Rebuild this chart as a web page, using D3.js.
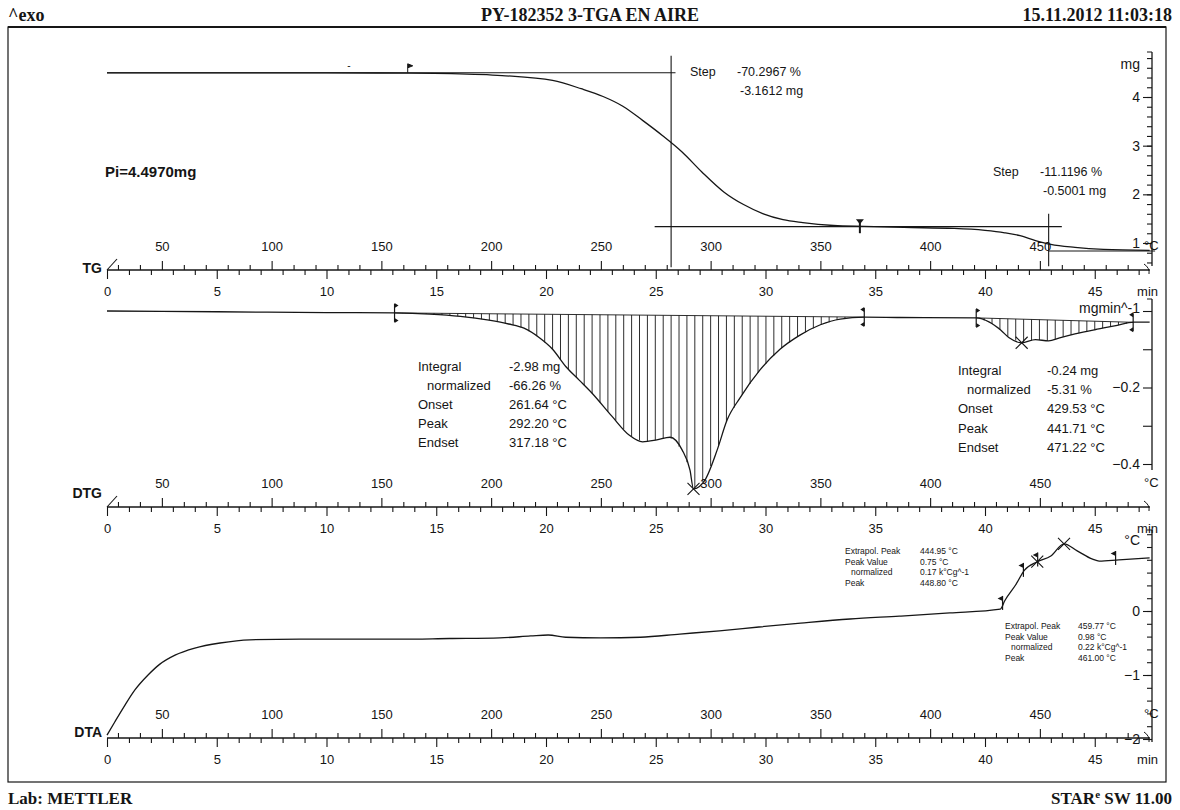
<!DOCTYPE html>
<html><head><meta charset="utf-8">
<script src="https://cdn.jsdelivr.net/npm/d3@7"></script>
<style>body{margin:0;background:#fff}svg{display:block}text{font-family:"Liberation Sans",Arial,sans-serif;fill:#151515}</style>
</head><body>
<svg id="c" width="1180" height="810"></svg>
<script>
// ---------- data ----------
const tgTime = [0,5,10,13.8,15.7,18.0,20.3,21.6,22.6,23.5,24.4,25.3,26.2,27.1,28.1,29.0,29.9,30.8,31.7,33.1,34.5,36.3,38.6,40.0,40.9,41.6,42.3,43.0,44.1,45.4,47.5];
const tgMass = [4.497,4.497,4.495,4.49,4.48,4.44,4.34,4.17,4.01,3.81,3.52,3.21,2.87,2.46,2.05,1.79,1.60,1.48,1.42,1.36,1.34,1.32,1.30,1.26,1.21,1.15,1.05,0.97,0.91,0.87,0.85];

const dtgTime = [0,5,10,13.1,14.7,16.1,17.4,18.3,19.0,19.7,20.3,20.9,21.5,22.1,23.0,23.8,24.4,25.05,25.65,26.2,26.56,26.72,27.24,27.8,28.25,28.84,29.75,30.66,31.57,32.5,33.4,34.5,36.1,39.6,40.2,40.7,41.1,41.67,42.3,42.9,43.4,44.1,45.0,45.9,46.8,47.5];
const dtgRate = [0,-0.002,-0.004,-0.005,-0.008,-0.014,-0.024,-0.034,-0.045,-0.07,-0.10,-0.145,-0.18,-0.215,-0.275,-0.325,-0.342,-0.337,-0.33,-0.363,-0.416,-0.465,-0.442,-0.363,-0.285,-0.227,-0.154,-0.10,-0.063,-0.036,-0.021,-0.016,-0.017,-0.018,-0.029,-0.049,-0.07,-0.083,-0.075,-0.078,-0.07,-0.06,-0.049,-0.039,-0.029,-0.029];

const dtaTime = [0,0.36,0.82,1.28,1.87,2.41,3.1,4.0,5.15,6.5,8.8,11.1,13.3,15.6,17.9,19.3,20.1,20.9,22.5,24.3,26.1,27.9,29.7,31.6,33.85,36.1,38.4,40.7,40.9,41.4,41.8,42.38,43.0,43.6,44.2,44.9,45.2,46.1,47.5];
const dtaSignal = [-1.94,-1.73,-1.47,-1.23,-1.0,-0.83,-0.69,-0.58,-0.50,-0.45,-0.44,-0.44,-0.44,-0.43,-0.42,-0.39,-0.375,-0.41,-0.42,-0.41,-0.36,-0.31,-0.25,-0.19,-0.125,-0.08,-0.03,0.03,0.16,0.41,0.64,0.77,0.86,1.05,0.94,0.81,0.78,0.80,0.83];

const timeTicksMajor = [0,5,10,15,20,25,30,35,40,45];
const tempTicksMajor = [50,100,150,200,250,300,350,400,450];
const tgTicks = [1,2,3,4];
const dtgTicks = [0,-0.1,-0.2,-0.3,-0.4];
const dtgTickLabels = [-0.2,-0.4];
const dtaTicks = [0,-1,-2];

const tgSteps = [
  {label:"Step", pct:"-70.2967 %", mg:"-3.1612 mg", tFrom:0, tTo:25.9, tV:25.7, hi:4.497, lo:1.336, tLoFrom:24.95, tLoTo:43.5},
  {label:"Step", pct:"-11.1196 %", mg:"-0.5001 mg", tV:42.9, lo:0.836, tLoTo:47.75}
];
const dtgLimits = [[13.1,34.5],[39.6,46.75]];
const dtgPeaks = [26.72,41.67];
const dtgResults = [
  [["Integral","-2.98 mg"],[" normalized","-66.26 %"],["Onset","261.64 °C"],["Peak","292.20 °C"],["Endset","317.18 °C"]],
  [["Integral","-0.24 mg"],[" normalized","-5.31 %"],["Onset","429.53 °C"],["Peak","441.71 °C"],["Endset","471.22 °C"]]
];
const dtaPeaks = [42.38,43.6];
const dtaFlags = [40.8,41.75,42.4,45.95];
const dtaResults = [
  [["Extrapol. Peak","444.95 °C"],["Peak Value","0.75 °C"],["  normalized","0.17 k°Cg^-1"],["Peak","448.80 °C"]],
  [["Extrapol. Peak","459.77 °C"],["Peak Value","0.98 °C"],["  normalized","0.22 k°Cg^-1"],["Peak","461.00 °C"]]
];

// ---------- scales ----------
const svg = d3.select("#c");
const X0 = 107, PXMIN = 21.95, TEND = 47.5;
const xT = d3.scaleLinear().domain([0,TEND]).range([X0, X0+TEND*PXMIN]);
const xC = d3.scaleLinear().domain([25,25+10*TEND]).range([X0, X0+TEND*PXMIN]);
const AXR = 1152;
const yTG = d3.scaleLinear().domain([1,4]).range([243,97]);
const yDTG = d3.scaleLinear().domain([0,-0.4]).range([311,464]);
const yDTA = d3.scaleLinear().domain([0,-1]).range([611,675]);
const ink = "#161616";

function interp(ts, vs, t){
  let i = d3.bisectLeft(ts,t); i = Math.max(1, Math.min(ts.length-1, i));
  const k = (t-ts[i-1])/(ts[i]-ts[i-1]);
  return vs[i-1] + k*(vs[i]-vs[i-1]);
}

// ---------- frame & header ----------
svg.append("rect").attr("x",8).attr("y",27).attr("width",1158).attr("height",755)
  .attr("fill","none").attr("stroke",ink).attr("stroke-width",1.2);
svg.append("line").attr("x1",8).attr("x2",1166).attr("y1",27).attr("y2",27).attr("stroke",ink).attr("stroke-width",2.2);
const serif = `"Liberation Serif","Times New Roman",serif`;
const hdr = (x,anchor,txt)=>svg.append("text").attr("x",x).attr("y",21).attr("text-anchor",anchor).style("font-family",serif).style("font-size","18px").style("font-weight","bold").text(txt);
hdr(8,"start","^exo"); hdr(590,"middle","PY-182352 3-TGA EN AIRE"); hdr(1172,"end","15.11.2012 11:03:18");
svg.append("text").attr("x",8).attr("y",804).style("font-family",serif).style("font-size","17px").style("font-weight","bold").text("Lab: METTLER");
const st = svg.append("text").attr("x",1172).attr("y",804).attr("text-anchor","end").style("font-family",serif).style("font-size","17px").style("font-weight","bold");
st.append("tspan").text("STAR");
st.append("tspan").attr("dy",-6).style("font-size","11px").text("e");
st.append("tspan").attr("dy",6).text(" SW 11.00");

// ---------- rulers ----------
function ruler(y, name, labelDy){
  const g = svg.append("g").attr("transform",`translate(0,${y})`);
  const tempMinor = d3.range(30, 500, 10).filter(v=>v%50!==0);
  const timeMinor = d3.range(1, 48, 1).filter(v=>v%5!==0);
  const style = sel => { sel.select(".domain").remove(); sel.selectAll("line").attr("stroke",ink).attr("stroke-width",1.1); sel.selectAll("text").style("font-size","13px").style("font-family",'"Liberation Sans",Arial,sans-serif').attr("fill",ink); };
  g.append("g").call(d3.axisTop(xC).tickValues(tempMinor).tickSize(5).tickFormat("")).call(style);
  g.append("g").call(d3.axisTop(xC).tickValues(tempTicksMajor).tickSize(9).tickPadding(10).tickFormat(d3.format("d"))).call(style);
  g.append("g").call(d3.axisBottom(xT).tickValues(timeMinor).tickSize(5).tickFormat("")).call(style);
  g.append("g").call(d3.axisBottom(xT).tickValues(timeTicksMajor).tickSize(9).tickPadding(8).tickFormat(d3.format("d"))).call(style);
  g.append("line").attr("x1",X0).attr("x2",AXR-2).attr("y1",0).attr("y2",0).attr("stroke",ink).attr("stroke-width",1.3);
  g.append("path").attr("d",`M${AXR-8},-6 Q${AXR-2},-2 ${AXR-3},4`).attr("fill","none").attr("stroke",ink);
  g.append("text").attr("x",X0-5).attr("y",labelDy).attr("text-anchor","end").style("font-size","14px").style("font-weight","bold").text(name);
  g.append("text").attr("x",AXR-8).attr("y",-20).style("font-size","13px").text("°C");
  g.append("text").attr("x",AXR+6).attr("y",26).attr("text-anchor","end").style("font-size","13px").text("min");
}
ruler(270,"TG",3);
ruler(507,"DTG",-9);
ruler(738,"DTA",-1);
// start slashes
[270,507].forEach(y=>svg.append("line").attr("x1",X0).attr("y1",y).attr("x2",X0+10).attr("y2",y-11).attr("stroke",ink).attr("stroke-width",1.1));

// ---------- right axes ----------
function rightAxis(scale, major, minor, labels, fmt, yTop, yBot, unit, unitY){
  const g = svg.append("g").attr("transform",`translate(${AXR},0)`);
  const style = sel => { sel.select(".domain").remove(); sel.selectAll("line").attr("stroke",ink).attr("stroke-width",1.1); sel.selectAll("text").style("font-size","14px").style("font-family",'"Liberation Sans",Arial,sans-serif').attr("fill",ink); };
  if (minor) g.append("g").call(d3.axisLeft(scale).tickValues(minor).tickSize(5).tickFormat("")).call(style);
  g.append("g").call(d3.axisLeft(scale).tickValues(major).tickSize(9).tickPadding(3).tickFormat(d=> labels.includes(d)? fmt(d):"")).call(style);
  g.append("line").attr("x1",0).attr("x2",0).attr("y1",yTop).attr("y2",yBot).attr("stroke",ink).attr("stroke-width",1.3);
  g.append("line").attr("x1",-5).attr("x2",0).attr("y1",yTop).attr("y2",yTop).attr("stroke",ink);
  g.append("text").attr("x",-12).attr("y",unitY).attr("text-anchor","end").style("font-size","14px").text(unit);
}
rightAxis(yTG, tgTicks, d3.range(0.6,4.85,0.2).map(v=>+v.toFixed(1)), tgTicks, d3.format("d"), 52, 266, "mg", 69);
rightAxis(yDTG, dtgTicks, null, dtgTickLabels, d3.format(".1f"), 299, 470, "mgmin^-1", 313);
rightAxis(yDTA, dtaTicks, d3.range(-2,1.3,0.2).map(v=>+v.toFixed(1)), dtaTicks, d3.format("d"), 530, 742, "°C", 545);

// ---------- TG ----------
const lineTG = d3.line().x((d,i)=>xT(tgTime[i])).y(d=>yTG(d)).curve(d3.curveMonotoneX);
svg.append("path").attr("d",lineTG(tgMass)).attr("fill","none").attr("stroke",ink).attr("stroke-width",1.3);
const s1 = tgSteps[0], s2 = tgSteps[1];
const hl = (t1,t2,v)=>svg.append("line").attr("x1",xT(t1)).attr("x2",xT(t2)).attr("y1",yTG(v)).attr("y2",yTG(v)).attr("stroke",ink).attr("stroke-width",1.1);
const vl = (t,v1,v2)=>svg.append("line").attr("x1",xT(t)).attr("x2",xT(t)).attr("y1",yTG(v1)).attr("y2",yTG(v2)).attr("stroke",ink).attr("stroke-width",1.1);
hl(s1.tFrom,s1.tTo,s1.hi); vl(s1.tV,4.85,0.5); hl(s1.tLoFrom,s1.tLoTo,s1.lo);
vl(s2.tV,1.6,0.52); hl(s2.tV,s2.tLoTo,s2.lo);
function stepText(x,y,s){
  svg.append("text").attr("x",x).attr("y",y).style("font-size","12.5px").text(s.label);
  svg.append("text").attr("x",x+47).attr("y",y).style("font-size","12.5px").text(s.pct);
  svg.append("text").attr("x",x+50).attr("y",y+19).style("font-size","12.5px").text(s.mg);
}
stepText(690,76,s1); stepText(993,176,s2);
svg.append("text").attr("x",105).attr("y",177).style("font-size","15px").style("font-weight","bold").text("Pi=4.4970mg");
// TG markers
{ const fx = xT(13.7), fy = yTG(4.497);
  svg.append("path").attr("d",`M${fx},${fy} V${fy-9} l5,2 l-5,2`).attr("fill",ink).attr("stroke",ink);
  const px = xT(34.3), py = yTG(1.345);
  svg.append("line").attr("x1",px).attr("x2",px).attr("y1",py-6).attr("y2",py+7).attr("stroke",ink).attr("stroke-width",2);
  svg.append("path").attr("d",`M${px-4},${py-7} h8 l-4,5 z`).attr("fill",ink);
  svg.append("text").attr("x",xT(10.95)).attr("y",yTG(4.5)-4).style("font-size","10px").text("-");
}

// ---------- DTG ----------
const lineDTG = d3.line().x((d,i)=>xT(dtgTime[i])).y(d=>yDTG(d)).curve(d3.curveMonotoneX);
const hatch = svg.append("g");
dtgLimits.forEach(([a,b])=>{
  const va = interp(dtgTime,dtgRate,a), vb = interp(dtgTime,dtgRate,b);
  const step = 0.36;
  for(let t=a+step; t<b-0.05; t+=step){
    const base = va + (vb-va)*(t-a)/(b-a);
    hatch.append("line").attr("x1",xT(t)).attr("x2",xT(t)).attr("y1",yDTG(base)).attr("y2",yDTG(interp(dtgTime,dtgRate,t)))
      .attr("stroke",ink).attr("stroke-width",0.9);
  }
  hatch.append("line").attr("x1",xT(a)).attr("x2",xT(b)).attr("y1",yDTG(va)).attr("y2",yDTG(vb)).attr("stroke",ink).attr("stroke-width",0.9);
  [[a,1],[b,-1]].forEach(([t,dir])=>{
    const fx=xT(t), fy=yDTG(interp(dtgTime,dtgRate,t));
    svg.append("path").attr("d",`M${fx},${fy-9} V${fy+9}`).attr("stroke",ink).attr("stroke-width",1.2);
    svg.append("path").attr("d",`M${fx},${fy-10} l${4*dir},2.5 l${-4*dir},2.5 z M${fx},${fy+10} l${4*dir},-2.5 l${-4*dir},-2.5 z`).attr("fill",ink);
  });
});
svg.append("path").attr("d",lineDTG(dtgRate)).attr("fill","none").attr("stroke",ink).attr("stroke-width",1.3);
dtgPeaks.forEach(t=>{
  const px=xT(t), py=yDTG(interp(dtgTime,dtgRate,t));
  svg.append("path").attr("d",`M${px-6},${py-6} L${px+6},${py+6} M${px-6},${py+6} L${px+6},${py-6}`).attr("stroke",ink).attr("stroke-width",1.1);
});
function resultBlock(rows,x,xv,y0,dy,fs){
  rows.forEach((r,i)=>{
    const ind = r[0].startsWith(" ") ? fs*0.7 : 0;
    svg.append("text").attr("x",x+ind).attr("y",y0+i*dy).style("font-size",fs+"px").text(r[0].trim());
    svg.append("text").attr("x",xv).attr("y",y0+i*dy).style("font-size",fs+"px").text(r[1]);
  });
}
resultBlock(dtgResults[0],418,509,371,19,13);
resultBlock(dtgResults[1],958,1047,375,19.2,13);

// ---------- DTA ----------
const lineDTA = d3.line().x((d,i)=>xT(dtaTime[i])).y(d=>yDTA(d)).curve(d3.curveMonotoneX);
svg.append("path").attr("d",lineDTA(dtaSignal)).attr("fill","none").attr("stroke",ink).attr("stroke-width",1.3);
dtaPeaks.forEach(t=>{
  const px=xT(t), py=yDTA(interp(dtaTime,dtaSignal,t));
  svg.append("path").attr("d",`M${px-6},${py-6} L${px+6},${py+6} M${px-6},${py+6} L${px+6},${py-6}`).attr("stroke",ink).attr("stroke-width",1.1);
});
dtaFlags.forEach(t=>{
  const fx=xT(t), fy=yDTA(interp(dtaTime,dtaSignal,t));
  svg.append("path").attr("d",`M${fx},${fy+5} V${fy-9}`).attr("stroke",ink).attr("stroke-width",1.2);
  svg.append("path").attr("d",`M${fx},${fy-9} l-5,2.5 l5,2.5 z`).attr("fill",ink);
});
resultBlock(dtaResults[0],845,920,554,10.5,8.5);
resultBlock(dtaResults[1],1005,1078,629,10.5,8.5);
</script>
</body></html>
